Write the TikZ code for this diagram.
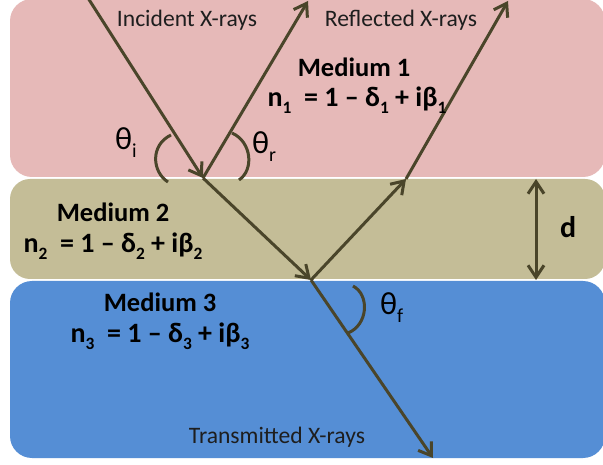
\documentclass[tikz,border=0pt]{standalone}
\usepackage{fontspec}
\setmainfont{Carlito}
\usetikzlibrary{arrows.meta}
\definecolor{pinkm}{HTML}{E6B9B8}
\definecolor{khakim}{HTML}{C4BD97}
\definecolor{bluem}{HTML}{558ED5}
\definecolor{rayc}{HTML}{4A452A}
\definecolor{labc}{HTML}{1E1E1E}
\newcommand{\lo}[1]{\raisebox{-0.22em}{\scalebox{0.62}{#1}}}
\begin{document}
\begin{tikzpicture}[x=1pt,y=-1pt,
  ray/.style={draw=rayc, line width=3pt, -{Straight Barb[length=12pt,width=16pt]}},
  dbl/.style={draw=rayc, line width=3pt, {Straight Barb[length=12pt,width=16pt]}-{Straight Barb[length=12pt,width=16pt]}},
  angarc/.style={draw=rayc, line width=3pt},
  thin/.style={font=\fontsize{23.6}{27}\selectfont, text=labc, inner sep=0pt, anchor=base},
  medium/.style={font=\fontsize{26.5}{30}\selectfont\bfseries, text=black, inner sep=0pt, anchor=base},
  index/.style={font=\fontsize{28}{32}\selectfont\bfseries, text=black, inner sep=0pt, anchor=base},
  angle/.style={font=\fontsize{32}{36}\selectfont, text=black, inner sep=0pt, anchor=base west}]
\useasboundingbox (0,0) rectangle (603,465);
\fill[white] (0,0) rectangle (603,465);
\begin{scope}
\clip (0,0) rectangle (603,465);
\fill[pinkm, rounded corners=22pt] (10,-1) rectangle (605,177);
\fill[khakim, rounded corners=20pt] (10,179) rectangle (605,279);
\fill[bluem, rounded corners=22pt] (10,281) rectangle (605,458);
\end{scope}

% ray points
\coordinate (src) at (88,-2);
\coordinate (hit1) at (203,178);
\coordinate (refl1) at (308,1);
\coordinate (hit2) at (311,280);
\coordinate (exit) at (406,179);
\coordinate (refl2) at (508,1);
\coordinate (trans) at (433,458);
\coordinate (dtop) at (536,179);
\coordinate (dbot) at (536,280);

\draw[ray] (src) -- (hit1);
\draw[ray] (hit1) -- (refl1);
\draw[ray] (hit1) -- (hit2);
\draw[ray] (hit2) -- (exit);
\draw[ray] (exit) -- (refl2);
\draw[ray] (hit2) -- (trans);
\draw[dbl] (dtop) -- (dbot);

% angle arcs
\draw[angarc] (171,135) .. controls (150,145) and (152,172) .. (168,182);
\draw[angarc] (232,133) .. controls (252,142) and (254,170) .. (239,180);
\draw[angarc] (353,286) .. controls (370,295) and (368,325) .. (348,333);

% labels
\node[thin] (lin) at (187,27) {Incident X-rays};
\node[thin] (lre) at (401,27) {Reflected X-rays};
\node[thin] (ltr) at (277,443) {Transmitted X-rays};

\node[medium] (m1) at (354,77) {Medium 1};
\node[index] (n1) at (357,107) {n\lo{1}~ = 1 – δ\lo{1} + iβ\lo{1}};
\node[medium] (m2) at (113,222) {Medium 2};
\node[index] (n2) at (113,253) {n\lo{2}~ = 1 – δ\lo{2} + iβ\lo{2}};
\node[medium] (m3) at (160,312) {Medium 3};
\node[index] (n3) at (160,343) {n\lo{3}~ = 1 – δ\lo{3} + iβ\lo{3}};

\node[angle] (ti) at (115,150) {θ\lo{i}};
\node[angle] (tr) at (252,154) {θ\lo{r}};
\node[angle] (tf) at (380,315) {θ\lo{f}};
\node[font=\fontsize{30}{34}\selectfont\bfseries, inner sep=0pt, anchor=base west] (dl) at (560,238) {d};
\end{tikzpicture}
\end{document}
